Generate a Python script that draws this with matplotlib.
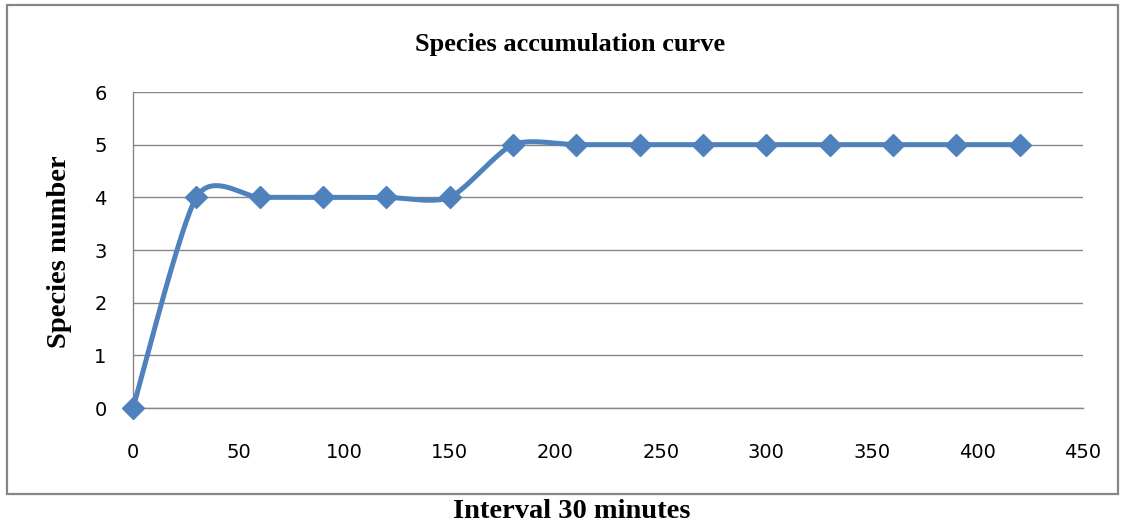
import numpy as np
import matplotlib
matplotlib.use('Agg')
import matplotlib.pyplot as plt
from matplotlib.patches import Rectangle

# data
minutes = [0, 30, 60, 90, 120, 150, 180, 210, 240, 270, 300, 330, 360, 390, 420]
species = [0, 4, 4, 4, 4, 4, 5, 5, 5, 5, 5, 5, 5, 5, 5]
xticks = [0, 50, 100, 150, 200, 250, 300, 350, 400, 450]
yticks = [0, 1, 2, 3, 4, 5, 6]

blue = '#4F81BD'
grid_gray = '#868686'
serif = ['Liberation Serif', 'DejaVu Serif']


# Excel-style smoothed line: cubic bezier with catmull-rom-like control points
def smooth(xs, ys, k=1/8, n=40):
    x = np.asarray(xs, float)
    y = np.asarray(ys, float)
    xp = np.concatenate([[x[0]], x, [x[-1]]])
    yp = np.concatenate([[y[0]], y, [y[-1]]])
    out_x, out_y = [], []
    t = np.linspace(0, 1, n)
    for i in range(len(x) - 1):
        p0 = np.array([x[i], y[i]])
        p3 = np.array([x[i+1], y[i+1]])
        p1 = p0 + (np.array([xp[i+2], yp[i+2]]) - np.array([xp[i], yp[i]])) * k
        p2 = p3 - (np.array([xp[i+3], yp[i+3]]) - np.array([xp[i+1], yp[i+1]])) * k
        b = ((1-t)**3)[:, None]*p0 + (3*(1-t)**2*t)[:, None]*p1 \
            + (3*(1-t)*t**2)[:, None]*p2 + (t**3)[:, None]*p3
        out_x.extend(b[:, 0])
        out_y.extend(b[:, 1])
    return np.array(out_x), np.array(out_y)


fig = plt.figure(figsize=(11.21, 5.29), dpi=100)
ax = fig.add_axes([133/1121, 1-408/529, (1083-133)/1121, (408-92)/529])

sx, sy = smooth(minutes, species)
ax.plot(sx, sy, color=blue, lw=3.6, solid_capstyle='round', zorder=3)
ax.plot(minutes, species, ls='none', marker='D', ms=11, color=blue,
        mec=blue, mew=1, zorder=4, clip_on=False)

ax.set_xlim(0, 450)
ax.set_ylim(0, 6)
ax.set_xticks(xticks)
ax.set_yticks(yticks)
ax.tick_params(axis='x', length=0, labelsize=14, pad=25)
ax.tick_params(axis='y', length=0, labelsize=14, pad=19)
for lab in ax.get_xticklabels() + ax.get_yticklabels():
    lab.set_family('DejaVu Sans')
ax.grid(axis='y', color=grid_gray, lw=1)
ax.set_axisbelow(True)
for s in ['top', 'right']:
    ax.spines[s].set_visible(False)
for s in ['left', 'bottom']:
    ax.spines[s].set_color(grid_gray)
    ax.spines[s].set_linewidth(1)

fig.text(570/1121, 1-45/529, 'Species accumulation curve', ha='center', va='center',
         family=serif, weight='bold', fontsize=19)
fig.text(60/1121, 1-252/529, 'Species number', ha='center', va='center', rotation=90,
         family=serif, weight='bold', fontsize=20.5)
fig.text(572/1121, 1-512/529, 'Interval 30 minutes', ha='center', va='center',
         family=serif, weight='bold', fontsize=20.5)

# chart area border
fig.patches.append(Rectangle((7/1121, 1-494/529), (1118-7)/1121, (494-5)/529,
                             transform=fig.transFigure, fill=False,
                             edgecolor=grid_gray, lw=1.6))

fig.savefig('out.png', dpi=100)
